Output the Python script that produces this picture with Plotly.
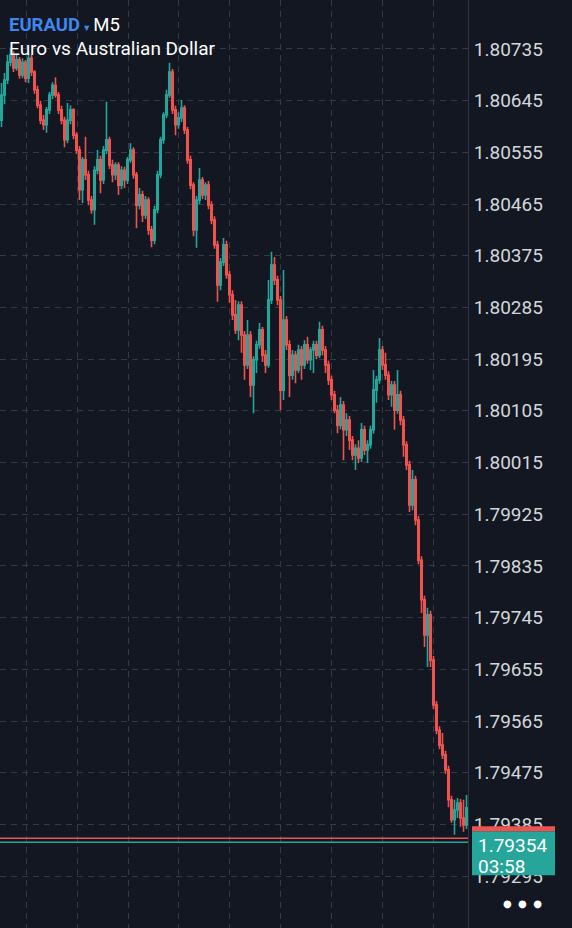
import plotly.graph_objects as go

# EURAUD M5 candles (prices)
open_ = [1.80611,1.80655,1.80681,1.80712,1.80725,1.80702,1.80716,1.80690,1.80712,1.80684,
         1.80719,1.80695,1.80664,1.80637,1.80611,1.80603,1.80629,1.80655,1.80672,1.80655,
         1.80629,1.80611,1.80577,1.80611,1.80629,1.80585,1.80559,1.80490,1.80542,1.80516,
         1.80472,1.80455,1.80524,1.80542,1.80507,1.80559,1.80577,1.80533,1.80516,1.80533,
         1.80498,1.80524,1.80507,1.80542,1.80559,1.80516,1.80463,1.80481,1.80446,1.80472,
         1.80420,1.80402,1.80455,1.80516,1.80577,1.80620,1.80655,1.80695,1.80629,1.80603,
         1.80615,1.80632,1.80594,1.80542,1.80498,1.80420,1.80472,1.80507,1.80481,1.80498,
         1.80463,1.80437,1.80394,1.80324,1.80364,1.80394,1.80342,1.80307,1.80272,1.80246,
         1.80289,1.80237,1.80185,1.80237,1.80150,1.80194,1.80220,1.80246,1.80202,1.80185,
         1.80298,1.80359,1.80333,1.80298,1.80141,1.80263,1.80220,1.80167,1.80202,1.80176,
         1.80211,1.80185,1.80220,1.80194,1.80211,1.80220,1.80202,1.80246,1.80211,1.80185,
         1.80159,1.80133,1.80106,1.80080,1.80115,1.80072,1.80089,1.80054,1.80028,1.80040,
         1.80023,1.80072,1.80037,1.80046,1.80072,1.80141,1.80159,1.80211,1.80185,1.80167,
         1.80133,1.80150,1.80106,1.80133,1.80089,1.80046,1.80011,1.79941,1.79985,1.79915,
         1.79845,1.79776,1.79715,1.79750,1.79671,1.79593,1.79549,1.79523,1.79506,1.79480,
         1.79428,1.79393,1.79410,1.79422,1.79396,1.79384]
high = [1.80676,1.80693,1.80725,1.80737,1.80731,1.80726,1.80721,1.80719,1.80716,1.80728,
        1.80725,1.80698,1.80671,1.80645,1.80620,1.80634,1.80660,1.80677,1.80686,1.80660,
        1.80636,1.80617,1.80641,1.80637,1.80632,1.80590,1.80566,1.80547,1.80582,1.80523,
        1.80479,1.80531,1.80559,1.80549,1.80566,1.80643,1.80582,1.80542,1.80538,1.80538,
        1.80531,1.80530,1.80547,1.80571,1.80564,1.80521,1.80493,1.80488,1.80479,1.80477,
        1.80427,1.80462,1.80523,1.80582,1.80625,1.80664,1.80711,1.80700,1.80636,1.80625,
        1.80646,1.80637,1.80599,1.80549,1.80503,1.80479,1.80528,1.80512,1.80503,1.80505,
        1.80470,1.80444,1.80401,1.80371,1.80406,1.80401,1.80349,1.80315,1.80298,1.80296,
        1.80296,1.80244,1.80263,1.80244,1.80200,1.80227,1.80258,1.80251,1.80211,1.80333,
        1.80382,1.80373,1.80340,1.80305,1.80350,1.80270,1.80228,1.80211,1.80209,1.80220,
        1.80218,1.80228,1.80234,1.80216,1.80227,1.80227,1.80260,1.80253,1.80218,1.80192,
        1.80166,1.80140,1.80115,1.80129,1.80122,1.80101,1.80096,1.80061,1.80047,1.80054,
        1.80084,1.80079,1.80054,1.80079,1.80176,1.80166,1.80232,1.80218,1.80206,1.80174,
        1.80157,1.80157,1.80176,1.80140,1.80096,1.80052,1.80018,1.80002,1.79992,1.79922,
        1.79852,1.79783,1.79762,1.79757,1.79678,1.79600,1.79556,1.79544,1.79513,1.79487,
        1.79435,1.79428,1.79431,1.79429,1.79428,1.79436]
low = [1.80599,1.80639,1.80674,1.80705,1.80695,1.80697,1.80683,1.80684,1.80677,1.80676,
       1.80688,1.80657,1.80632,1.80604,1.80594,1.80589,1.80622,1.80648,1.80650,1.80622,
       1.80604,1.80564,1.80571,1.80604,1.80578,1.80552,1.80472,1.80467,1.80507,1.80463,
       1.80448,1.80429,1.80517,1.80484,1.80500,1.80552,1.80526,1.80503,1.80507,1.80481,
       1.80491,1.80493,1.80500,1.80537,1.80509,1.80423,1.80456,1.80434,1.80439,1.80411,
       1.80390,1.80395,1.80449,1.80510,1.80570,1.80615,1.80650,1.80622,1.80585,1.80596,
       1.80608,1.80587,1.80535,1.80491,1.80409,1.80389,1.80465,1.80474,1.80472,1.80456,
       1.80430,1.80387,1.80295,1.80315,1.80357,1.80335,1.80293,1.80263,1.80239,1.80228,
       1.80206,1.80159,1.80178,1.80129,1.80101,1.80171,1.80213,1.80190,1.80171,1.80180,
       1.80291,1.80324,1.80289,1.80106,1.80124,1.80211,1.80129,1.80159,1.80153,1.80171,
       1.80159,1.80178,1.80187,1.80176,1.80171,1.80195,1.80197,1.80202,1.80171,1.80150,
       1.80124,1.80101,1.80066,1.80073,1.80019,1.80061,1.80037,1.80019,1.80002,1.80014,
       1.80016,1.80028,1.80014,1.80039,1.80065,1.80119,1.80152,1.80176,1.80159,1.80124,
       1.80112,1.80072,1.80100,1.80080,1.80025,1.80002,1.79929,1.79932,1.79906,1.79838,
       1.79753,1.79694,1.79659,1.79659,1.79586,1.79542,1.79516,1.79499,1.79473,1.79415,
       1.79388,1.79367,1.79396,1.79381,1.79372,1.79377]
close = [1.80655,1.80681,1.80712,1.80725,1.80702,1.80716,1.80690,1.80712,1.80684,1.80719,
         1.80695,1.80664,1.80637,1.80611,1.80603,1.80629,1.80655,1.80672,1.80655,1.80629,
         1.80611,1.80577,1.80611,1.80629,1.80585,1.80559,1.80490,1.80542,1.80516,1.80472,
         1.80455,1.80524,1.80542,1.80507,1.80559,1.80577,1.80533,1.80516,1.80533,1.80498,
         1.80524,1.80507,1.80542,1.80559,1.80516,1.80463,1.80481,1.80446,1.80472,1.80420,
         1.80402,1.80455,1.80516,1.80577,1.80620,1.80655,1.80695,1.80629,1.80603,1.80615,
         1.80632,1.80594,1.80542,1.80498,1.80420,1.80472,1.80507,1.80481,1.80498,1.80463,
         1.80437,1.80394,1.80324,1.80364,1.80394,1.80342,1.80307,1.80272,1.80246,1.80289,
         1.80237,1.80185,1.80237,1.80150,1.80194,1.80220,1.80246,1.80202,1.80185,1.80298,
         1.80359,1.80333,1.80298,1.80141,1.80263,1.80220,1.80167,1.80202,1.80176,1.80211,
         1.80185,1.80220,1.80194,1.80211,1.80220,1.80202,1.80246,1.80211,1.80185,1.80159,
         1.80133,1.80106,1.80080,1.80115,1.80072,1.80089,1.80054,1.80028,1.80040,1.80023,
         1.80072,1.80037,1.80046,1.80072,1.80141,1.80159,1.80211,1.80185,1.80167,1.80133,
         1.80150,1.80106,1.80133,1.80089,1.80046,1.80011,1.79941,1.79985,1.79915,1.79845,
         1.79776,1.79715,1.79750,1.79671,1.79593,1.79549,1.79523,1.79506,1.79480,1.79428,
         1.79393,1.79410,1.79422,1.79396,1.79384,1.79414]

price_ticks = [1.80735, 1.80645, 1.80555, 1.80465, 1.80375, 1.80285, 1.80195, 1.80105,
               1.80015, 1.79925, 1.79835, 1.79745, 1.79655, 1.79565, 1.79475, 1.79385, 1.79295]
bid = 1.79354
ask = 1.79361
timer = "03:58"
symbol, timeframe, description = "EURAUD", "M5", "Euro vs Australian Dollar"

bars = list(range(len(close)))

BG = "#121721"
GRID = "#343a46"
UP = "#26a69a"
DOWN = "#ef5350"
TXT = "#d3d6db"
FONT = "Roboto"

fig = go.Figure()
fig.add_trace(go.Candlestick(
    x=bars, open=open_, high=high, low=low, close=close,
    increasing=dict(line=dict(color=UP, width=1.6), fillcolor=UP),
    decreasing=dict(line=dict(color=DOWN, width=1.6), fillcolor=DOWN),
    whiskerwidth=0, showlegend=False, hoverinfo="skip"))

# bid / ask lines
fig.add_hline(y=ask, line=dict(color=DOWN, width=1.5))
fig.add_hline(y=bid, line=dict(color=UP, width=1.5))

W, H = 572, 928
plot_w = 468
fig.update_layout(
    width=W, height=H,
    margin=dict(l=0, r=W - plot_w, t=0, b=0),
    paper_bgcolor=BG, plot_bgcolor=BG,
    font=dict(family=FONT, color=TXT),
    showlegend=False,
    xaxis=dict(range=[-0.5, len(close) - 0.5], rangeslider=dict(visible=False),
               showticklabels=False, ticks="", zeroline=False,
               showgrid=True, gridcolor=GRID, griddash="6px,5px", gridwidth=1,
               tick0=8.3, dtick=16.95, tickmode="linear", fixedrange=True),
    yaxis=dict(range=[1.792046, 1.808203], side="right",
               tickmode="array", tickvals=price_ticks,
               ticktext=[f"{v:.5f}" for v in price_ticks],
               tickfont=dict(family=FONT, size=19, color=TXT),
               ticks="", ticklabelstandoff=1,
               showgrid=True, gridcolor=GRID, griddash="6px,5px", gridwidth=1,
               showline=True, linecolor="#2f3440", linewidth=1, zeroline=False),
)

# price label box (teal) with red strip on top, anchored to the bid price
fig.add_shape(type="rect", xref="paper", yref="y",
              x0=1 + 4 / plot_w, x1=1 + 87 / plot_w,
              ysizemode="pixel", yanchor=bid, y0=-33, y1=11,
              fillcolor=UP, line=dict(width=0), layer="above")
fig.add_shape(type="rect", xref="paper", yref="y",
              x0=1 + 4 / plot_w, x1=1 + 87 / plot_w,
              ysizemode="pixel", yanchor=bid, y0=11, y1=16,
              fillcolor=DOWN, line=dict(width=0), layer="above")
fig.add_annotation(xref="paper", yref="y", x=1, y=bid, xanchor="left", yanchor="middle",
                   xshift=9, yshift=-3, text=f"{bid:.5f}", showarrow=False, borderpad=0,
                   font=dict(family=FONT, size=19, color="#ffffff"))
fig.add_annotation(xref="paper", yref="y", x=1, y=bid, xanchor="left", yanchor="middle",
                   xshift=9, yshift=-24, text=timer, showarrow=False, borderpad=0,
                   font=dict(family=FONT, size=19, color="#ffffff"))

# title
fig.add_annotation(xref="paper", yref="paper", x=7 / plot_w, y=1, xanchor="left", yanchor="top",
                   yshift=-12, showarrow=False, align="left",
                   text=(f"<b><span style='color:#3f86ef'>{symbol}</span></b>"
                         f"<span style='color:#3f86ef;font-size:9px'> ▼ </span>{timeframe}"),
                   font=dict(family=FONT, size=18.5, color="#ffffff"))
fig.add_annotation(xref="paper", yref="paper", x=7 / plot_w, y=1, xanchor="left", yanchor="top",
                   yshift=-35, showarrow=False, align="left", text=description,
                   font=dict(family=FONT, size=19, color="#ffffff"))

# menu dots
fig.add_annotation(xref="paper", yref="paper", x=1 + 54 / plot_w, y=1 - 903 / H,
                   xanchor="center", yanchor="middle", showarrow=False,
                   text="●&nbsp;&nbsp;●&nbsp;&nbsp;●",
                   font=dict(family="DejaVu Sans", size=10, color="#ffffff"))

fig.write_html("out.html", config={"displayModeBar": False})
